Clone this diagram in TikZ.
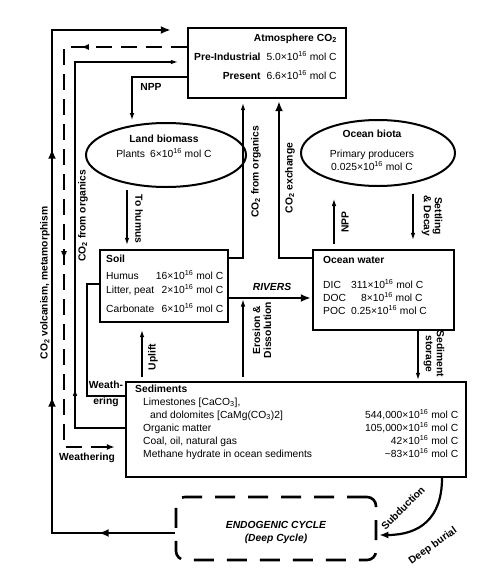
\documentclass[tikz,border=0pt]{standalone}
\usepackage{fontspec}
\setmainfont{Liberation Sans}
\usetikzlibrary{arrows.meta,shapes.geometric,decorations.markings}

\begin{document}
\begin{tikzpicture}[x=1pt,y=-1pt,
    >={Latex[length=7pt,width=4.6pt]},
    font=\fontsize{10.3}{13}\selectfont,
    box/.style={draw,line width=2.4pt,inner sep=0pt},
    blob/.style={draw,ellipse,line width=2pt,inner sep=0pt},
    endobox/.style={draw,line width=2.6pt,rounded corners=9pt,dash pattern=on 20pt off 13pt,inner sep=0pt},
    heavy/.style={line width=2.6pt,>={Latex[length=10pt,width=8pt]}},
    light/.style={line width=1.1pt},
    broken/.style={line width=1.9pt,dash pattern=on 16pt off 9pt,>={Latex[length=8pt,width=6pt]}},
    tag/.style={font=\fontsize{10.3}{11}\selectfont\bfseries,inner sep=0pt},
    txt/.style={inner sep=0pt}]
\useasboundingbox[fill=white] (0,0) rectangle (478,568);

\node[box,minimum width=158pt,minimum height=70pt] (atm) at (267,63) {};
\node[blob,minimum width=160pt,minimum height=64pt] (land) at (166,155) {};
\node[blob,minimum width=154pt,minimum height=66pt] (ocb) at (378,153) {};
\node[box,minimum width=128pt,minimum height=72pt] (soil) at (164,286) {};
\node[box,minimum width=141pt,minimum height=80pt] (ocw) at (383.5,290) {};
\node[box,minimum width=340pt,minimum height=95pt] (sed) at (296,429.5) {};
\node[endobox,minimum width=200pt,minimum height=63pt] (endo) at (276,528.5) {};

\node[tag,anchor=base east] (atmT) at (337,41) {Atmosphere CO\textsubscript{2}};
\node[txt,anchor=north west] (atmV) at (194,51) {\begin{tabular}{@{}r@{\hspace{6pt}}l@{}}
  \bfseries Pre-Industrial & 5.0×10\textsuperscript{16} mol C\\[6pt]
  \bfseries Present & 6.6×10\textsuperscript{16} mol C
\end{tabular}};
\node[txt,align=center] (landT) at (164,146) {\bfseries Land biomass\\[2pt] Plants\enspace 6×10\textsuperscript{16} mol C};
\node[txt,align=center] (ocbT) at (372,150) {\bfseries Ocean biota\\[7pt] Primary producers\\ 0.025×10\textsuperscript{16} mol C};
\node[txt,anchor=north west] (soilT) at (106,253) {\begin{tabular*}{117pt}{@{}l@{\extracolsep{\fill}}r@{}}
  \bfseries Soil &\\[4pt]
  Humus & 16×10\textsuperscript{16} mol C\\[1pt]
  Litter, peat & 2×10\textsuperscript{16} mol C\\[6pt]
  Carbonate & 6×10\textsuperscript{16} mol C
\end{tabular*}};
\node[txt,anchor=north west] (ocwT) at (323,254) {\begin{tabular}{@{}l@{\hspace{5pt}}l@{}}
  \multicolumn{2}{@{}l}{\bfseries Ocean water}\\[12pt]
  DIC & 311×10\textsuperscript{16} mol C\\
  DOC & \hspace{10pt}8×10\textsuperscript{16} mol C\\
  POC & 0.25×10\textsuperscript{16} mol C
\end{tabular}};
\node[txt,anchor=north west] (sedT) at (135,383) {\begin{tabular*}{323pt}{@{}l@{\extracolsep{\fill}}r@{}}
  \bfseries Sediments &\\
  \hspace{8pt}Limestones [CaCO\textsubscript{3}], &\\
  \hspace{15pt}and dolomites [CaMg(CO\textsubscript{3})2] & 544,000×10\textsuperscript{16} mol C\\
  \hspace{8pt}Organic matter & 105,000×10\textsuperscript{16} mol C\\
  \hspace{8pt}Coal, oil, natural gas & 42×10\textsuperscript{16} mol C\\
  \hspace{8pt}Methane hydrate in ocean sediments & \textasciitilde 83×10\textsuperscript{16} mol C
\end{tabular*}};
\node[txt,align=center,font=\fontsize{10.3}{13}\selectfont\bfseries\itshape] (endoT) at (276,532) {ENDOGENIC CYCLE\\(Deep Cycle)};

\coordinate (vcB) at (52,533);
\coordinate (vcT) at (52,30);
\draw[heavy,->,shorten >=16pt,postaction={decorate},decoration={markings,
    mark=at position 76pt with {\arrow{>}},
    mark=at position 259pt with {\arrow{>}},
    mark=at position 507pt with {\arrow{>}}}]
  (endo.west |- vcB) -- (vcB) -- (vcT) -- (atm.west |- vcT);
\coordinate (weaT) at (64,47);
\coordinate (weaB) at (64,447);
\draw[broken,->,shorten >=10pt,postaction={decorate},decoration={markings,
    mark=at position 106pt with {\arrow{>}},
    mark=at position 335pt with {\arrow{>}}}]
  (atm.west |- weaT) -- (weaT) -- (weaB) -- (sed.west |- weaB);
\coordinate (orgB) at (75,428);
\coordinate (orgT) at (75,62);
\draw[light,->,shorten >=9pt,postaction={decorate},decoration={markings,
    mark=at position 89pt with {\arrow{>}}}]
  (sed.west |- orgB) -- (orgB) -- (orgT) -- (atm.west |- orgT);
\coordinate (swT) at (87,284);
\coordinate (swB) at (87,396);
\draw[light] (soil.west |- swT) -- (swT) -- (swB) -- (sed.west |- swB);

\coordinate (nppL) at (132,77);
\draw[light,->,shorten >=2pt] (atm.west |- nppL) -- (nppL) -- (nppL |- land.north);
\coordinate (humX) at (127,0);
\draw[light,->,shorten <=2pt,shorten >=4pt] (humX |- land.south) -- (humX |- soil.north);
\coordinate (orgM) at (243,258);
\draw[light,->,shorten >=4pt] (soil.east |- orgM) -- (orgM) -- (orgM |- atm.south);
\coordinate (exch) at (279,258);
\draw[heavy,->,shorten >=2pt] (ocw.west |- exch) -- (exch) -- (exch |- atm.south);
\coordinate (riv) at (270,298);
\draw[heavy,->,shorten >=1pt] (soil.east |- riv) -- (ocw.west |- riv);
\coordinate (ero) at (243,298);
\draw[light,->,shorten <=4pt,shorten >=1.5pt] (ero |- sed.north) -- (ero);
\coordinate (upl) at (142,0);
\draw[light,->,shorten <=4pt,shorten >=7pt] (upl |- sed.north) -- (upl |- soil.south);
\coordinate (nppO) at (334,0);
\draw[light,->,shorten <=5pt,shorten >=12pt] (nppO |- ocw.north) -- (nppO |- ocb.south);
\coordinate (setl) at (413,0);
\draw[light,->,shorten <=7pt,shorten >=9pt] (setl |- ocb.south) -- (setl |- ocw.north);
\coordinate (stor) at (418,0);
\draw[light,->,shorten >=1pt] (stor |- ocw.south) -- (stor |- sed.north);
\coordinate (subd) at (442,535);
\draw[line width=2.2pt,>={Latex[length=9pt,width=7pt]},->,shorten >=2pt]
  (subd |- sed.south) .. controls (442,518) and (420,535) .. (endo.east |- subd);

\node[tag] (nppLT) at (151,87) {NPP};
\node[tag,rotate=90] (volcL) at (45,283) {CO\textsubscript{2} volcanism, metamorphism};
\node[tag,rotate=90] (orgLL) at (83,216) {CO\textsubscript{2} from organics};
\node[tag,rotate=-90] (humL) at (139,219) {To humus};
\node[tag,rotate=90] (orgML) at (256,172) {CO\textsubscript{2} from organics};
\node[tag,rotate=90] (exchL) at (290,178) {CO\textsubscript{2} exchange};
\node[tag,rotate=90] (nppOL) at (345,222) {NPP};
\node[tag,rotate=-90,align=center] (setlL) at (432,216) {Settling\\\& Decay};
\node[tag,font=\fontsize{10.3}{11}\selectfont\bfseries\itshape] (rivL) at (272,287) {RIVERS};
\node[tag,rotate=90,align=center] (eroL) at (262,330) {Erosion \&\\Dissolution};
\node[tag,rotate=90] (uplL) at (153,357) {Uplift};
\node[tag,align=center] (swL) at (106,394) {Weath-\\[5pt]ering};
\node[tag,rotate=-90,align=center] (storL) at (434,354) {Sediment\\storage};
\node[tag] (weaL) at (87,458) {Weathering};
\node[tag,rotate=45] (subL) at (403,508) {Subduction};
\node[tag,rotate=35] (burL) at (433,546) {Deep burial};
\end{tikzpicture}
\end{document}
